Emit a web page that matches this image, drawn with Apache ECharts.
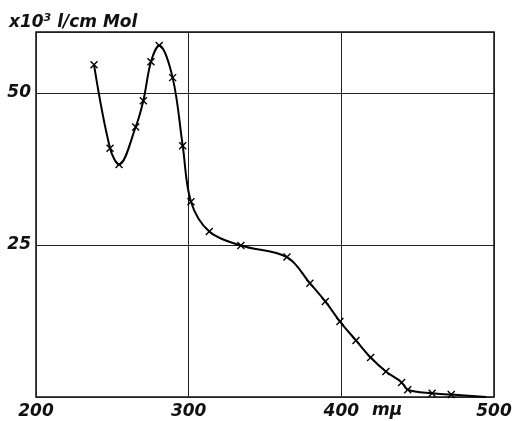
<!DOCTYPE html>
<html>
<head>
<meta charset="utf-8">
<script src="https://cdn.jsdelivr.net/npm/echarts@6/dist/echarts.min.js"></script>
<style>
html,body{margin:0;padding:0;background:#fff;}
#c{width:515px;height:421px;}
</style>
</head>
<body>
<div id="c"></div>
<script>
// Wavelength (mμ) of the measured points
var wavelengths = [238, 248.5, 254.4, 265.3, 270.3, 275.3, 280.7, 289.5, 296.1, 301.5, 313.5, 334.2, 364.4, 379.4, 389.5, 399.1, 409.6, 419.2, 429.2, 439.5, 443.5, 459.5, 472];
// Extinction (x10^3 l/cm Mol)
var extinction = [54.6, 40.9, 38.2, 44.4, 48.7, 55.1, 57.8, 52.5, 41.3, 32.1, 27.2, 24.9, 23.0, 18.7, 15.7, 12.4, 9.3, 6.5, 4.2, 2.4, 1.2, 0.6, 0.4];
// curve continues beyond last marked point
var tailX = [495];
var tailY = [0];
var xTicks = [200, 300, 400, 500];
var yTicks = [25, 50];

var FONT = 'DejaVu Sans';
var data = wavelengths.map(function (x, i) { return [x, extinction[i]]; });
tailX.forEach(function (x, i) { data.push({ value: [x, tailY[i]], symbol: 'none' }); });

var chart = echarts.init(document.getElementById('c'), null, { renderer: 'canvas' });
chart.setOption({
  animation: false,
  backgroundColor: '#fff',
  title: {
    left: 4, top: 8,
    text: '{a|x10}{s|3}{a| l/cm Mol}',
    textStyle: {
      rich: {
        a: { fontFamily: FONT, fontSize: 17, fontWeight: 'bold', fontStyle: 'italic', color: '#111' },
        s: { fontFamily: FONT, fontSize: 11, fontWeight: 'bold', fontStyle: 'italic', color: '#111', padding: [0, 0, 8, 0] }
      }
    }
  },
  grid: { left: 36, right: 21, top: 32, bottom: 24, show: true, borderColor: '#111', borderWidth: 1.5, backgroundColor: 'transparent' },
  xAxis: {
    type: 'value', min: 200, max: 500, interval: 100,
    axisLine: { show: false },
    axisTick: { show: false },
    splitLine: { show: true, lineStyle: { color: '#222', width: 1 } },
    axisLabel: {
      fontFamily: FONT, fontSize: 17, fontWeight: 'bold', fontStyle: 'italic', color: '#111', margin: 6,
      formatter: function (v) { return xTicks.indexOf(v) >= 0 ? String(v) : ''; }
    }
  },
  yAxis: {
    type: 'value', min: 0, max: 60, interval: 25,
    axisLine: { show: false },
    axisTick: { show: false },
    splitLine: { show: true, lineStyle: { color: '#222', width: 1 } },
    axisLabel: {
      fontFamily: FONT, fontSize: 17, fontWeight: 'bold', fontStyle: 'italic', color: '#111', margin: 5,
      showMaxLabel: false,
      formatter: function (v) { return yTicks.indexOf(v) >= 0 ? String(v) : ''; }
    }
  },
  series: [{
    type: 'line',
    data: data,
    smooth: 0.35,
    symbol: 'path://M0,0L10,10M10,0L0,10',
    symbolSize: 7,
    itemStyle: { color: '#000', borderColor: '#000', borderWidth: 1.4 },
    lineStyle: { color: '#000', width: 2 },
    z: 5
  }]
});

var p = chart.convertToPixel({ gridIndex: 0 }, [430, 0]);
chart.setOption({
  graphic: [{
    type: 'text', x: p[0], y: p[1] + 14,
    style: { text: 'mμ', fontFamily: FONT, fontSize: 17, fontWeight: 'bold', fontStyle: 'italic', fill: '#111', align: 'center', verticalAlign: 'middle' }
  }]
});
</script>
</body>
</html>
